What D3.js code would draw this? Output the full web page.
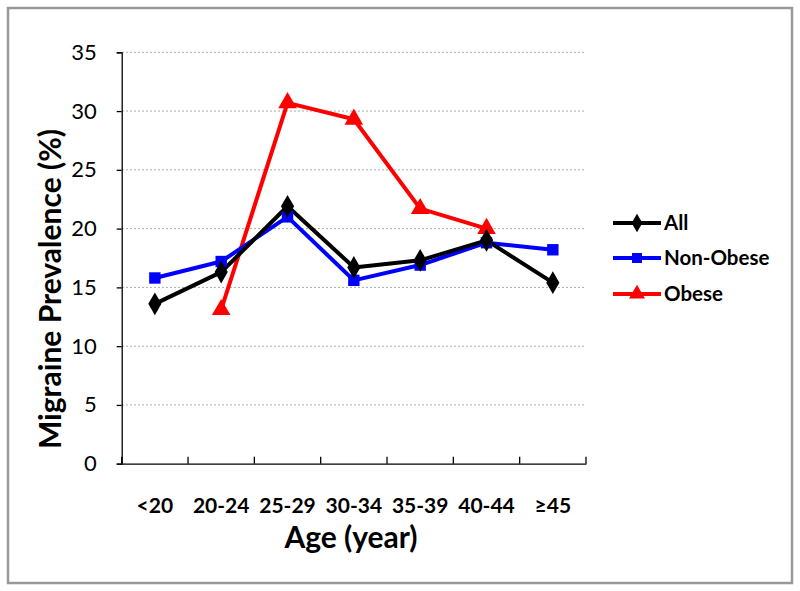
<!DOCTYPE html>
<html><head><meta charset="utf-8">
<script src="https://cdn.jsdelivr.net/npm/d3@7"></script>
<style>body{margin:0;background:#fff}svg{display:block}</style>
</head><body>
<script>
const categories = ["<20","20-24","25-29","30-34","35-39","40-44","≥45"];
const allValues = [13.6,16.3,21.9,16.7,17.3,19.0,15.4];
const nonObeseValues = [15.8,17.2,21.0,15.6,16.9,18.8,18.2];
const obeseValues = [null,13.1,30.7,29.3,21.7,20.0,null];
const yTicks = [0,5,10,15,20,25,30,35];
const seriesNames = ["All","Non-Obese","Obese"];
const seriesColors = ["#000000","#0000ff","#ff0000"];
const seriesSymbols = [d3.symbolDiamond, d3.symbolSquare, d3.symbolTriangle];

const W=800,H=591;
const svg=d3.select("body").append("svg").attr("width",W).attr("height",H);
svg.append("rect").attr("x",8).attr("y",8).attr("width",784).attr("height",575)
  .attr("fill","#fff").attr("stroke","#999").attr("stroke-width",2.5);

const x=d3.scaleBand().domain(categories).range([121.7,586]);
const y=d3.scaleLinear().domain([0,35]).range([463.7,52.3]);
const font="Lato, 'Open Sans', sans-serif";

// gridlines
svg.append("g").selectAll("line").data(yTicks.filter(d=>d>0)).join("line")
  .attr("x1",122).attr("x2",585).attr("y1",d=>y(d)).attr("y2",d=>y(d))
  .attr("stroke","#aaa").attr("stroke-width",1).attr("stroke-dasharray","2,2");

// y axis
const ya=svg.append("g").attr("transform","translate(121.7,0)")
  .call(d3.axisLeft(y).tickValues(yTicks).tickSize(5).tickPadding(20).tickFormat(d3.format("d")));
ya.select(".domain").attr("stroke","#000").attr("stroke-width",1.3);
ya.selectAll(".tick line").attr("stroke","#000").attr("stroke-width",1.3);
ya.selectAll("text").attr("font-family",font).attr("font-size",22).attr("fill","#000");

// x axis
const xa=svg.append("g").attr("transform","translate(0,463.7)")
  .call(d3.axisBottom(x).tickSize(0).tickPadding(34));
xa.select(".domain").attr("stroke","#000").attr("stroke-width",1.3);
xa.selectAll("text").attr("font-family",font).attr("font-size",21).attr("font-weight","bold").attr("fill","#000");
// category boundary ticks (inside)
const bounds=categories.map(c=>x(c)).concat([x.range()[1]]);
svg.append("g").selectAll("line").data(bounds).join("line")
  .attr("x1",d=>d).attr("x2",d=>d).attr("y1",463.7).attr("y2",456.7)
  .attr("stroke","#000").attr("stroke-width",1.3);

const cx=c=>x(c)+x.bandwidth()/2;
const seriesData=[allValues,nonObeseValues,obeseValues];
const line=d3.line().defined(d=>d.v!=null).x(d=>cx(d.c)).y(d=>y(d.v));
const order=[2,1,0];
order.forEach(i=>{
  const pts=categories.map((c,j)=>({c,v:seriesData[i][j]}));
  svg.append("path").datum(pts).attr("d",line).attr("fill","none")
    .attr("stroke",seriesColors[i]).attr("stroke-width",4).attr("stroke-linejoin","round");
});
order.forEach(i=>{
  const pts=categories.map((c,j)=>({c,v:seriesData[i][j]})).filter(d=>d.v!=null);
  const size=i===2?150:(i===1?130:150);
  svg.append("g").selectAll("path").data(pts).join("path")
    .attr("transform",d=>`translate(${cx(d.c)},${y(d.v)})`)
    .attr("d",d3.symbol(seriesSymbols[i],size)).attr("fill",seriesColors[i]);
});

// axis titles
svg.append("text").attr("transform","translate(61,289) rotate(-90)").attr("text-anchor","middle")
  .attr("font-family",font).attr("font-size",30).attr("font-weight","bold").text("Migraine Prevalence (%)");
svg.append("text").attr("x",351).attr("y",548).attr("text-anchor","middle")
  .attr("font-family",font).attr("font-size",30).attr("font-weight","bold").text("Age (year)");

// legend
const legY=[223,258,294];
seriesNames.forEach((n,i)=>{
  const g=svg.append("g");
  g.append("line").attr("x1",613).attr("x2",661).attr("y1",legY[i]).attr("y2",legY[i])
    .attr("stroke",seriesColors[i]).attr("stroke-width",4);
  g.append("path").attr("transform",`translate(637,${legY[i]})`)
    .attr("d",d3.symbol(seriesSymbols[i],i===2?110:100)).attr("fill",seriesColors[i]);
  g.append("text").attr("x",664).attr("y",legY[i]).attr("dy","0.36em")
    .attr("font-family",font).attr("font-size",20.5).attr("font-weight","bold").text(n);
});
</script>
</body></html>
